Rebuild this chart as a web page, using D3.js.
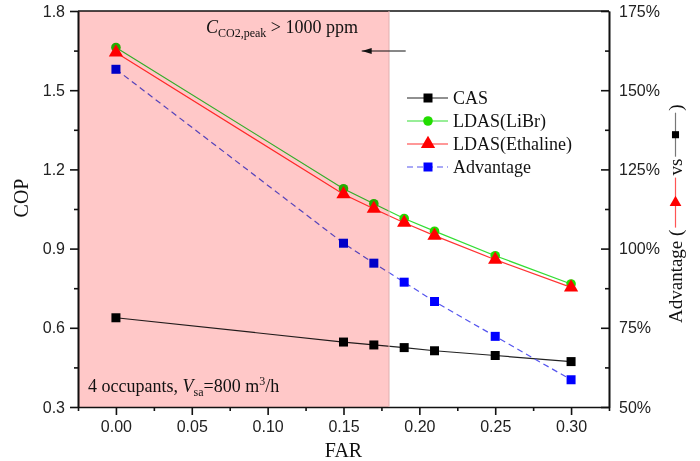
<!DOCTYPE html>
<html>
<head>
<meta charset="utf-8">
<script src="https://cdn.jsdelivr.net/npm/d3@7"></script>
<style>
  body { margin: 0; background: #fff; }
  svg { font-family: "Liberation Serif", "Times New Roman", serif; }
  .tick text { fill: #222; font-size: 16px; }
  .axis path, .axis line { stroke: #111; }
</style>
</head>
<body>
<svg id="chart" width="700" height="461"></svg>
<script>
// values
var far = [0, 0.15, 0.17, 0.19, 0.21, 0.25, 0.30];
var cas = [0.638, 0.546, 0.535, 0.525, 0.513, 0.495, 0.472];
var libr = [1.662, 1.127, 1.070, 1.014, 0.966, 0.873, 0.766];
var ethaline = [1.643, 1.106, 1.051, 0.998, 0.949, 0.858, 0.753];
var advantage = [156.6, 101.7, 95.4, 89.4, 83.3, 72.3, 58.6];
var xTicks = [0, 0.05, 0.10, 0.15, 0.20, 0.25, 0.30];
var yTicks = [0.3, 0.6, 0.9, 1.2, 1.5, 1.8];
var rTicks = [50, 75, 100, 125, 150, 175];
var shadeLimit = 0.18;

var mLeft = 78, mRight = 609, mTop = 11, mBottom = 407;
var svg = d3.select("#chart");

var x = d3.scaleLinear().domain([-0.025, 0.325]).range([mLeft, mRight]);
var y = d3.scaleLinear().domain([0.3, 1.8]).range([mBottom, mTop]);
var yr = d3.scaleLinear().domain([50, 175]).range([mBottom, mTop]);

/* axes */
function minors(ticks) {
  var out = [];
  for (var i = 0; i < ticks.length - 1; i++) out.push((ticks[i] + ticks[i + 1]) / 2);
  return out;
}

var plot = svg.append("g");

svg.append("g").attr("class", "axis")
  .attr("transform", "translate(0," + mBottom + ")")
  .call(d3.axisBottom(x).tickValues(minors([-0.05].concat(xTicks, [0.35]))).tickSize(4).tickFormat("").tickSizeOuter(0))
  .call(function(g) { g.select(".domain").remove(); });
svg.append("g").attr("class", "axis")
  .attr("transform", "translate(0," + mBottom + ")")
  .call(d3.axisBottom(x).tickValues(xTicks).tickSize(8).tickPadding(6).tickSizeOuter(0)
    .tickFormat(d3.format(".2f")));

svg.append("g").attr("class", "axis")
  .attr("transform", "translate(" + mLeft + ",0)")
  .call(d3.axisLeft(y).tickValues(minors(yTicks)).tickSize(4).tickFormat("").tickSizeOuter(0));
svg.append("g").attr("class", "axis")
  .attr("transform", "translate(" + mLeft + ",0)")
  .call(d3.axisLeft(y).tickValues(yTicks).tickSize(8).tickPadding(5).tickSizeOuter(0)
    .tickFormat(d3.format(".1f")));

svg.append("g").attr("class", "axis")
  .attr("transform", "translate(" + mRight + ",0)")
  .call(d3.axisRight(yr).tickValues(minors(rTicks)).tickSize(-4).tickFormat("").tickSizeOuter(0));
svg.append("g").attr("class", "axis")
  .attr("transform", "translate(" + mRight + ",0)")
  .call(d3.axisRight(yr).tickValues(rTicks).tickSize(-8).tickPadding(10).tickSizeOuter(0)
    .tickFormat(function(d) { return d + "%"; }));

svg.selectAll(".axis .domain, .axis line").attr("stroke-width", 1.6);

svg.append("line")
  .attr("x1", mLeft).attr("x2", mRight).attr("y1", mTop).attr("y2", mTop)
  .attr("stroke", "#111").attr("stroke-width", 1.6);

/* series */
var series = [
  { name: "CAS", values: cas, scale: y, line: "#222", fill: "#000", marker: "square", dash: null },
  { name: "LDAS(LiBr)", values: libr, scale: y, line: "#33dd33", fill: "#22dd00", marker: "circle", dash: null },
  { name: "LDAS(Ethaline)", values: ethaline, scale: y, line: "#ff3333", fill: "#ff0000", marker: "triangle", dash: null },
  { name: "Advantage", values: advantage, scale: yr, line: "#5555ee", fill: "#0000ff", marker: "square", dash: "6,4" }
];

var symbolType = { square: d3.symbolSquare, circle: d3.symbolCircle, triangle: d3.symbolTriangle };
var symbolSize = { square: 81, circle: 72, triangle: 88 };

series.forEach(function(s) {
  var line = d3.line()
    .x(function(d, i) { return x(far[i]); })
    .y(function(d) { return s.scale(d); });

  plot.append("path")
    .datum(s.values)
    .attr("d", line)
    .attr("fill", "none")
    .attr("stroke", s.line)
    .attr("stroke-width", 1.2)
    .attr("stroke-dasharray", s.dash);

  plot.selectAll(null)
    .data(s.values)
    .enter()
    .append("path")
    .attr("transform", function(d, i) { return "translate(" + x(far[i]) + "," + s.scale(d) + ")"; })
    .attr("d", d3.symbol().type(symbolType[s.marker]).size(symbolSize[s.marker]))
    .attr("fill", s.fill);
});

/* shaded region drawn over the data, as in the figure */
svg.append("rect")
  .attr("x", x(-0.025)).attr("y", mTop)
  .attr("width", x(shadeLimit) - x(-0.025)).attr("height", mBottom - mTop)
  .attr("fill", "#ffc8c8")
  .style("mix-blend-mode", "multiply");
svg.append("line")
  .attr("x1", x(shadeLimit)).attr("x2", x(shadeLimit))
  .attr("y1", mTop).attr("y2", mBottom)
  .attr("stroke", "#e0b0b0").attr("stroke-width", 1);

/* legend */
var legend = svg.append("g").attr("transform", "translate(407,98)");
series.forEach(function(s, i) {
  var g = legend.append("g").attr("transform", "translate(0," + i * 23 + ")");
  g.append("line")
    .attr("x1", 0).attr("x2", 41).attr("y1", 0).attr("y2", 0)
    .attr("stroke", s.line).attr("stroke-width", 1.2)
    .attr("stroke-dasharray", s.dash);
  g.append("path")
    .attr("transform", "translate(21,0)")
    .attr("d", d3.symbol().type(symbolType[s.marker]).size(symbolSize[s.marker]))
    .attr("fill", s.fill);
  g.append("text")
    .attr("x", 46).attr("y", 6)
    .style("font-size", "18px")
    .attr("fill", "#111")
    .text(s.name);
});

/* annotations */
var note = svg.append("text")
  .attr("x", 206).attr("y", 33)
  .style("font-size", "18px").attr("fill", "#111");
note.append("tspan").style("font-style", "italic").text("C");
note.append("tspan").attr("dy", 4).style("font-size", "12px").text("CO2,peak");
note.append("tspan").attr("dy", -4).text(" > 1000 ppm");

svg.append("defs").append("marker")
  .attr("id", "arrow")
  .attr("viewBox", "0 0 10 10")
  .attr("refX", 0).attr("refY", 5)
  .attr("markerWidth", 10).attr("markerHeight", 10)
  .attr("markerUnits", "userSpaceOnUse")
  .attr("orient", "auto")
  .append("path").attr("d", "M10,2 L0,5 L10,8 Z").attr("fill", "#111");

svg.append("line")
  .attr("x1", x(0.162)).attr("x2", x(0.191))
  .attr("y1", 51).attr("y2", 51)
  .attr("stroke", "#111").attr("stroke-width", 1)
  .attr("marker-start", "url(#arrow)");

var occ = svg.append("text")
  .attr("x", 88).attr("y", 392)
  .style("font-size", "18px").attr("fill", "#111");
occ.append("tspan").text("4 occupants, ");
occ.append("tspan").style("font-style", "italic").text("V");
occ.append("tspan").attr("dy", 4).style("font-size", "12px").text("sa");
occ.append("tspan").attr("dy", -4).text("=800 m");
occ.append("tspan").attr("dy", -7).style("font-size", "12px").text("3");
occ.append("tspan").attr("dy", 7).text("/h");

/* axis titles */
svg.append("text")
  .attr("x", (x(-0.025) + x(0.325)) / 2).attr("y", 457)
  .attr("text-anchor", "middle")
  .style("font-size", "20px").attr("fill", "#111")
  .text("FAR");

svg.append("text")
  .attr("transform", "translate(28,198) rotate(-90)")
  .attr("text-anchor", "middle")
  .style("font-size", "20px").attr("fill", "#111")
  .text("COP");

var rt = svg.append("g").attr("transform", "translate(682,323) rotate(-90)");
var pos = 0;
function rtText(str) {
  var t = rt.append("text").attr("x", pos).style("font-size", "19px").attr("fill", "#111").text(str);
  pos += t.node().getComputedTextLength();
}
function rtKey(s, len, color) {
  rt.append("line")
    .attr("x1", pos + 2).attr("x2", pos + len - 2).attr("y1", -6.5).attr("y2", -6.5)
    .attr("stroke", color).attr("stroke-width", 1.2);
  rt.append("path")
    .attr("transform", "translate(" + (pos + len / 2) + ",-6.5) rotate(90)")
    .attr("d", d3.symbol().type(symbolType[s.marker]).size(s.marker === "triangle" ? 60 : 50))
    .attr("fill", s.fill);
  pos += len;
}
rtText("Advantage (");
rtKey(series[2], 54, "#ff5555");
rtText(" vs ");
rtKey(series[0], 48, "#777");
rtText(")");
</script>
</body>
</html>
